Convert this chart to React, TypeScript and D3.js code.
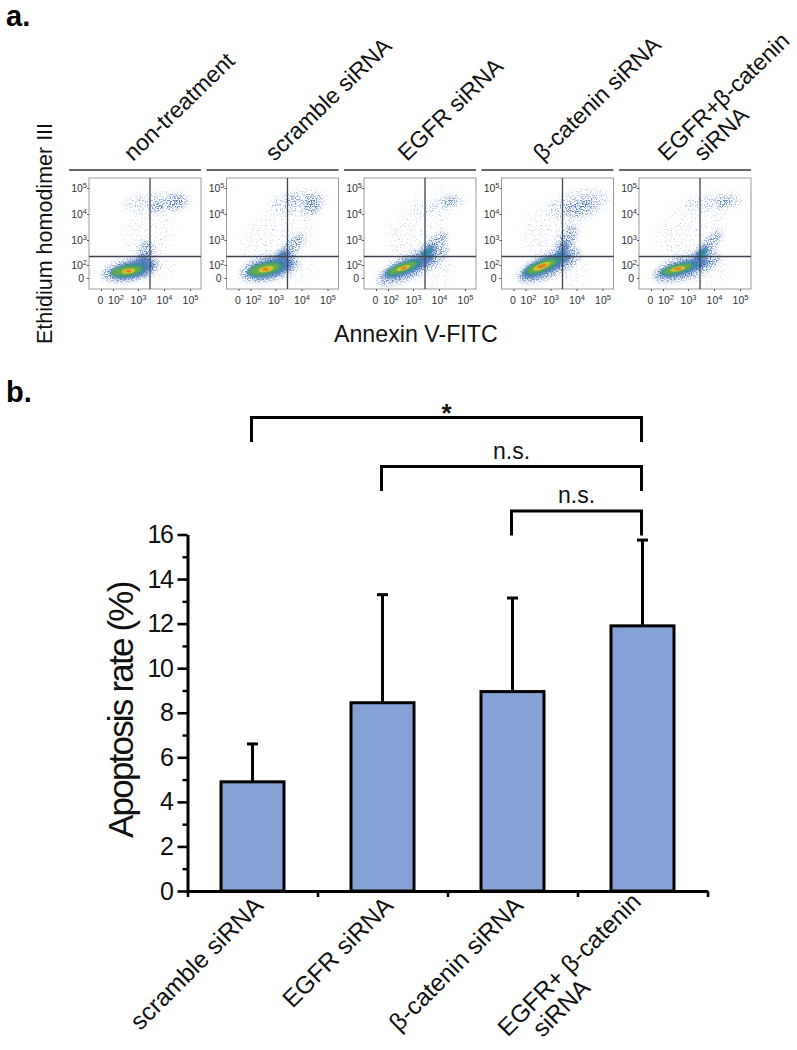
import React, { useEffect, useRef } from "react";
import * as d3 from "d3";

const FONT = "'Liberation Sans', Arial, sans-serif";

// panel a: flow plots
const panelTitles = [
  ["non-treatment"],
  ["scramble siRNA"],
  ["EGFR siRNA"],
  ["β-catenin siRNA"],
  ["EGFR+β-catenin", "siRNA"],
];
const axisDecades = [0, 2, 3, 4, 5];

// density clouds: [x decade, y decade, x radius, y radius, tilt, density level]
type Cloud = [number, number, number, number, number, number];
const cloudsNonTreatment: Cloud[] = [
  [3.42, 3.2, 1.1, 0.95, -60, 0],
  [3.75, 1.2, 0.7, 0.5, 0, 0],
  [3.75, 4.45, 1.3, 0.35, -5, 1],
  [4.43, 4.45, 0.4, 0.28, -10, 2],
  [3.75, 4.3, 0.3, 0.2, -10, 2],
  [3.33, 2.55, 0.3, 0.4, 0, 2],
  [2.7, 1.25, 1.12, 0.42, -12, 2],
  [3.2, 2.0, 0.3, 0.4, 0, 3],
  [2.8, 1.3, 0.85, 0.32, -14, 3],
  [2.6, 1.15, 0.72, 0.23, -10, 4],
  [2.55, 1.1, 0.58, 0.18, -8, 5],
  [2.62, 1.08, 0.27, 0.1, -8, 6],
  [2.62, 1.08, 0.1, 0.06, 0, 7],
];
const cloudsScramble: Cloud[] = [
  [2.85, 3.2, 1.4, 0.85, -35, 0],
  [3.9, 3.4, 0.5, 1.0, 0, 0],
  [3.8, 1.2, 0.7, 0.5, 0, 0],
  [3.85, 4.45, 1.1, 0.45, -10, 1],
  [4.38, 4.35, 0.35, 0.35, -30, 2],
  [3.65, 4.55, 0.3, 0.12, 0, 2],
  [3.65, 2.75, 0.6, 0.25, -45, 2],
  [2.75, 1.55, 1.15, 0.48, -14, 2],
  [3.3, 2.35, 0.3, 0.22, -30, 3],
  [2.8, 1.5, 0.9, 0.34, -14, 3],
  [2.62, 1.4, 0.74, 0.25, -12, 4],
  [2.58, 1.38, 0.6, 0.2, -12, 5],
  [2.62, 1.35, 0.3, 0.11, -12, 6],
  [2.6, 1.35, 0.12, 0.06, 0, 7],
];
const cloudsEgfr: Cloud[] = [
  [3.1, 3.2, 1.3, 0.95, -40, 0],
  [3.9, 1.0, 0.7, 0.7, 0, 0],
  [3.9, 4.4, 1.2, 0.5, -12, 0],
  [3.95, 4.3, 1.0, 0.18, -14, 1],
  [4.4, 4.5, 0.35, 0.14, -14, 2],
  [3.0, 2.0, 1.5, 0.45, -26, 2],
  [3.7, 2.7, 0.8, 0.26, -42, 2],
  [2.85, 1.75, 1.05, 0.27, -22, 3],
  [3.55, 2.5, 0.4, 0.18, -45, 3],
  [2.62, 1.55, 0.74, 0.2, -20, 4],
  [3.55, 2.5, 0.25, 0.11, -50, 4],
  [2.58, 1.55, 0.58, 0.15, -20, 5],
  [2.62, 1.55, 0.28, 0.08, -18, 6],
  [2.62, 1.55, 0.11, 0.05, -10, 7],
];
const cloudsCatenin: Cloud[] = [
  [2.95, 3.35, 1.2, 1.0, -45, 0],
  [3.9, 1.0, 0.6, 0.7, 0, 0],
  [4.05, 4.35, 1.2, 0.55, -15, 1],
  [4.15, 4.28, 0.6, 0.28, -15, 2],
  [3.55, 2.8, 0.85, 0.3, -65, 2],
  [2.95, 1.95, 1.3, 0.45, -24, 2],
  [3.45, 2.55, 0.45, 0.14, -60, 3],
  [2.85, 1.9, 1.05, 0.3, -24, 3],
  [2.68, 1.85, 0.8, 0.23, -22, 4],
  [3.3, 2.3, 0.25, 0.11, -35, 4],
  [2.65, 1.8, 0.62, 0.17, -22, 5],
  [2.65, 1.8, 0.36, 0.11, -22, 6],
  [2.65, 1.8, 0.17, 0.07, -15, 7],
];
const cloudsCombined: Cloud[] = [
  [2.95, 3.25, 1.4, 1.05, -40, 0],
  [3.9, 3.6, 0.55, 1.0, 0, 0],
  [3.8, 1.1, 0.8, 0.6, 0, 0],
  [4.0, 4.45, 1.15, 0.3, -6, 1],
  [4.4, 4.47, 0.35, 0.16, -6, 2],
  [2.95, 1.7, 1.35, 0.45, -18, 2],
  [3.7, 2.65, 0.85, 0.24, -50, 2],
  [2.85, 1.55, 1.0, 0.26, -16, 3],
  [3.5, 2.45, 0.4, 0.15, -45, 3],
  [2.62, 1.42, 0.74, 0.19, -14, 4],
  [3.55, 2.45, 0.25, 0.11, -45, 4],
  [2.58, 1.4, 0.58, 0.14, -14, 5],
  [2.6, 1.4, 0.3, 0.08, -12, 6],
  [2.6, 1.4, 0.13, 0.05, -10, 7],
];
const panelClouds = [
  cloudsNonTreatment,
  cloudsScramble,
  cloudsEgfr,
  cloudsCatenin,
  cloudsCombined,
];

const levelColors = ["#8aa4d8", "#7b9bd6", "#3f6cb8", "#2d63ae", "#2a8f9a", "#6bb040", "#d8c22f", "#e57a2c"];
const levelFilters = [
  "url(#speckSparse)",
  "url(#speckLight)",
  "url(#speckDense)",
  "url(#soft2)",
  "url(#soft1)",
  "url(#soft1)",
  "url(#soft0)",
  "url(#soft0)",
];
const levelOpacity = [0.5, 0.7, 0.8, 0.75, 0.85, 0.9, 0.95, 0.95];

// panel b: bars
const barLabels = [
  ["scramble siRNA"],
  ["EGFR siRNA"],
  ["β-catenin siRNA"],
  ["EGFR+ β-catenin", "siRNA"],
];
const barValues = [4.9, 8.45, 8.95, 11.9];
const barErrors = [1.7, 4.85, 4.2, 3.85];
const yMajorTicks = [0, 2, 4, 6, 8, 10, 12, 14, 16];
const yMinorTicks = [1, 3, 5, 7, 9, 11, 13, 15];

// significance brackets, heights in axis units
const bracketFrom = [0, 1, 2];
const bracketTo = [3, 3, 3];
const bracketTop = [21.25, 19.05, 17.05];
const bracketDrop = [20.15, 17.95, 15.95];
const bracketLabels = ["*", "n.s.", "n.s."];

export default function App() {
  const svgRef = useRef<SVGSVGElement>(null);

  useEffect(() => {
    if (!svgRef.current) return;
    const svg = d3.select(svgRef.current);
    svg.selectAll("*").remove();
    svg.style("font-family", FONT);

    // Filters for the density plots
    const defs = svg.append("defs");
    const speck = (id: string, cut: number, blur: number) => {
      const f = defs
        .append("filter")
        .attr("id", id)
        .attr("x", "-30%")
        .attr("y", "-30%")
        .attr("width", "160%")
        .attr("height", "160%");
      f.append("feGaussianBlur").attr("in", "SourceGraphic").attr("stdDeviation", blur).attr("result", "b");
      f.append("feTurbulence")
        .attr("type", "fractalNoise")
        .attr("baseFrequency", 0.8)
        .attr("numOctaves", 1)
        .attr("seed", 7)
        .attr("result", "n");
      f.append("feColorMatrix")
        .attr("in", "n")
        .attr("type", "matrix")
        .attr("values", `0 0 0 0 0 0 0 0 0 0 0 0 0 0 0 9 0 0 0 ${-9 * cut}`)
        .attr("result", "m");
      f.append("feComposite").attr("in", "b").attr("in2", "m").attr("operator", "in").attr("result", "c");
      f.append("feGaussianBlur").attr("in", "c").attr("stdDeviation", 0.35);
    };
    speck("speckSparse", 0.6, 4);
    speck("speckLight", 0.53, 3);
    speck("speckDense", 0.47, 2.5);
    [0.7, 1.2, 2].forEach((s, i) => {
      defs
        .append("filter")
        .attr("id", `soft${i}`)
        .attr("x", "-50%")
        .attr("y", "-50%")
        .attr("width", "200%")
        .attr("height", "200%")
        .append("feGaussianBlur")
        .attr("stdDeviation", s);
    });
    defs.append("clipPath").attr("id", "plotClip").append("rect").attr("width", 112).attr("height", 111);

    // Panel letters
    svg.append("text").attr("x", 6).attr("y", 26).attr("font-size", 29).attr("font-weight", "bold").text("a.");
    svg.append("text").attr("x", 6).attr("y", 402).attr("font-size", 29).attr("font-weight", "bold").text("b.");

    // Panel a
    const panelStep = 137.5;
    const plotW = 112;
    const plotH = 111;
    const plotTop = 178;
    const plotLeft = 89;
    const titleStarts = [44, 48, 43, 41, 28];

    const xPlot = d3.scaleLinear().domain(axisDecades).range([12, 24, 49, 75, 101]);
    const yPlot = d3.scaleLinear().domain(axisDecades).range([100, 87, 62, 36, 10]);
    const decadePx = xPlot(4) - xPlot(3);

    panelTitles.forEach((title, i) => {
      const g = svg.append("g").attr("transform", `translate(${plotLeft + i * panelStep},${plotTop})`);

      // header rule
      g.append("line")
        .attr("x1", -20)
        .attr("x2", plotW)
        .attr("y1", -8)
        .attr("y2", -8)
        .attr("stroke", "#333")
        .attr("stroke-width", 1.6);

      // rotated title
      const t = g
        .append("text")
        .attr("transform", `translate(${titleStarts[i]},-16) rotate(-44)`)
        .attr("font-size", 23)
        .attr("fill", "#111");
      title.forEach((line, k) => {
        t.append("tspan")
          .attr("x", k === 0 ? 0 : 26)
          .attr("dy", k === 0 ? 0 : 25)
          .text(line);
      });

      // density clouds
      const inner = g.append("g").attr("clip-path", "url(#plotClip)");
      levelColors.forEach((color, level) => {
        inner
          .append("g")
          .attr("filter", levelFilters[level])
          .attr("opacity", levelOpacity[level])
          .selectAll("ellipse")
          .data(panelClouds[i].filter((c) => c[5] === level))
          .enter()
          .append("ellipse")
          .attr("transform", (c) => `translate(${xPlot(c[0])},${yPlot(c[1])}) rotate(${c[4]})`)
          .attr("rx", (c) => c[2] * decadePx)
          .attr("ry", (c) => c[3] * decadePx)
          .attr("fill", color);
      });

      // frame and gates
      g.append("rect")
        .attr("width", plotW)
        .attr("height", plotH)
        .attr("fill", "none")
        .attr("stroke", "#9a9a9a")
        .attr("stroke-width", 1);
      g.append("line")
        .attr("x1", 61)
        .attr("x2", 61)
        .attr("y1", 0)
        .attr("y2", plotH)
        .attr("stroke", "#3d4450")
        .attr("stroke-width", 1.3);
      g.append("line")
        .attr("x1", 0)
        .attr("x2", plotW)
        .attr("y1", 78.5)
        .attr("y2", 78.5)
        .attr("stroke", "#3d4450")
        .attr("stroke-width", 1.3);

      // axes, exponents set as superscript tspans
      const label = (sel: d3.Selection<any, any, any, any>, d: number) => {
        if (d === 0) {
          sel.text("0");
          return;
        }
        sel.text("10");
        sel.append("tspan").attr("dy", -4).attr("font-size", 7.5).text(String(d));
      };

      const xa = g
        .append("g")
        .attr("transform", `translate(0,${plotH})`)
        .call(d3.axisBottom(xPlot).tickValues(axisDecades).tickSize(2));
      xa.select(".domain").remove();
      xa.selectAll("line").attr("stroke", "#555");
      xa.selectAll<SVGTextElement, number>("text")
        .attr("font-size", 10.5)
        .attr("font-family", FONT)
        .attr("fill", "#333")
        .attr("text-anchor", "middle")
        .attr("dy", 0)
        .attr("y", 15)
        .attr("x", (d) => (d === 0 ? -1 : d === 2 ? 2.5 : 0))
        .each(function (d) {
          label(d3.select(this), d);
        });

      const ya = g.append("g").call(d3.axisLeft(yPlot).tickValues(axisDecades).tickSize(2));
      ya.select(".domain").remove();
      ya.selectAll("line").attr("stroke", "#555");
      ya.selectAll<SVGTextElement, number>("text")
        .attr("font-size", 10.5)
        .attr("font-family", FONT)
        .attr("fill", "#333")
        .attr("text-anchor", "end")
        .attr("dy", 0)
        .attr("y", 3.5)
        .attr("x", (d) => (d === 0 ? -5 : -2))
        .each(function (d) {
          label(d3.select(this), d);
        });
    });

    svg
      .append("text")
      .attr("transform", "translate(52,344) rotate(-90)")
      .attr("font-size", 21.5)
      .attr("fill", "#111")
      .text("Ethidium homodimer III");
    svg
      .append("text")
      .attr("x", 334)
      .attr("y", 342)
      .attr("font-size", 23.2)
      .attr("fill", "#111")
      .text("Annexin V-FITC");

    // Panel b
    const x0 = 187.5;
    const x1 = 707.5;
    const yBase = 891;
    const yTop = 534.5;
    const x = d3.scaleBand<number>().domain(d3.range(barValues.length)).range([x0, x1]);
    const xEdge = d3.scaleLinear().domain([0, barValues.length]).range([x0, x1]);
    const y = d3.scaleLinear().domain([0, 16]).range([yBase, yTop]);
    const barW = 63;
    const cx = (i: number) => x(i)! + x.bandwidth() / 2;

    // error bars behind the bars
    const err = svg.append("g").attr("stroke", "#000").attr("stroke-width", 3);
    barValues.forEach((v, i) => {
      err.append("line").attr("x1", cx(i)).attr("x2", cx(i)).attr("y1", y(v)).attr("y2", y(v + barErrors[i]));
      err
        .append("line")
        .attr("x1", cx(i) - 5.5)
        .attr("x2", cx(i) + 5.5)
        .attr("y1", y(v + barErrors[i]))
        .attr("y2", y(v + barErrors[i]));
    });

    svg
      .append("g")
      .selectAll("rect")
      .data(barValues)
      .enter()
      .append("rect")
      .attr("x", (_, i) => cx(i) - barW / 2)
      .attr("y", (d) => y(d))
      .attr("width", barW)
      .attr("height", (d) => yBase - y(d))
      .attr("fill", "#85a2d6")
      .attr("stroke", "#000")
      .attr("stroke-width", 3);

    // axes
    const yAxis = svg
      .append("g")
      .attr("transform", `translate(${x0},0)`)
      .call(d3.axisLeft(y).tickValues(yMajorTicks).tickSize(10).tickPadding(5).tickSizeOuter(0));
    yAxis.selectAll("text").attr("font-size", 25).attr("font-family", FONT).attr("letter-spacing", -1.4).attr("fill", "#111");
    yAxis.selectAll("line").attr("stroke", "#000").attr("stroke-width", 2.6);
    yAxis.select(".domain").attr("stroke", "#000").attr("stroke-width", 3);

    const yMinor = svg
      .append("g")
      .attr("transform", `translate(${x0},0)`)
      .call(d3.axisLeft(y).tickValues(yMinorTicks).tickSize(5).tickFormat(() => ""));
    yMinor.select(".domain").remove();
    yMinor.selectAll("line").attr("stroke", "#000").attr("stroke-width", 2.4);

    const xAxis = svg
      .append("g")
      .attr("transform", `translate(0,${yBase})`)
      .call(d3.axisBottom(xEdge).ticks(barValues.length).tickSize(6).tickSizeOuter(0).tickFormat(() => ""));
    xAxis.select(".domain").attr("stroke", "#000").attr("stroke-width", 3);
    xAxis.selectAll("line").attr("stroke", "#000").attr("stroke-width", 2.6);

    barLabels.forEach((lines, i) => {
      const twoLine = lines.length > 1;
      const t = svg
        .append("text")
        .attr("transform", `translate(${cx(i) + (twoLine ? 0 : 12)},${yBase + (twoLine ? 12 : 16)}) rotate(-45)`)
        .attr("text-anchor", "end")
        .attr("font-size", 24.5)
        .attr("fill", "#111");
      lines.forEach((line, k) => {
        t.append("tspan")
          .attr("x", k === 0 ? 0 : -97)
          .attr("dy", k === 0 ? 0 : 25)
          .text(line);
      });
    });

    svg
      .append("text")
      .attr("transform", "translate(133,838) rotate(-90)")
      .attr("font-size", 35)
      .attr("letter-spacing", -1.8)
      .attr("fill", "#111")
      .text("Apoptosis rate (%)");

    // brackets
    bracketLabels.forEach((lab, i) => {
      const xa = cx(bracketFrom[i]) - 1;
      const xb = cx(bracketTo[i]) - 1;
      svg
        .append("path")
        .attr("d", `M${xa},${y(bracketDrop[i])}V${y(bracketTop[i])}H${xb}V${y(bracketDrop[i])}`)
        .attr("fill", "none")
        .attr("stroke", "#000")
        .attr("stroke-width", 3);
      svg
        .append("text")
        .attr("x", (xa + xb) / 2)
        .attr("y", y(bracketTop[i]) - (lab === "*" ? -4 : 8))
        .attr("text-anchor", "middle")
        .attr("font-size", lab === "*" ? 26 : 23)
        .attr("font-weight", lab === "*" ? "bold" : "normal")
        .attr("fill", "#111")
        .text(lab);
    });
  }, []);

  return (
    <svg
      ref={svgRef}
      width={797}
      height={1050}
      style={{ position: "absolute", left: 0, top: 0, background: "#fff" }}
    />
  );
}
